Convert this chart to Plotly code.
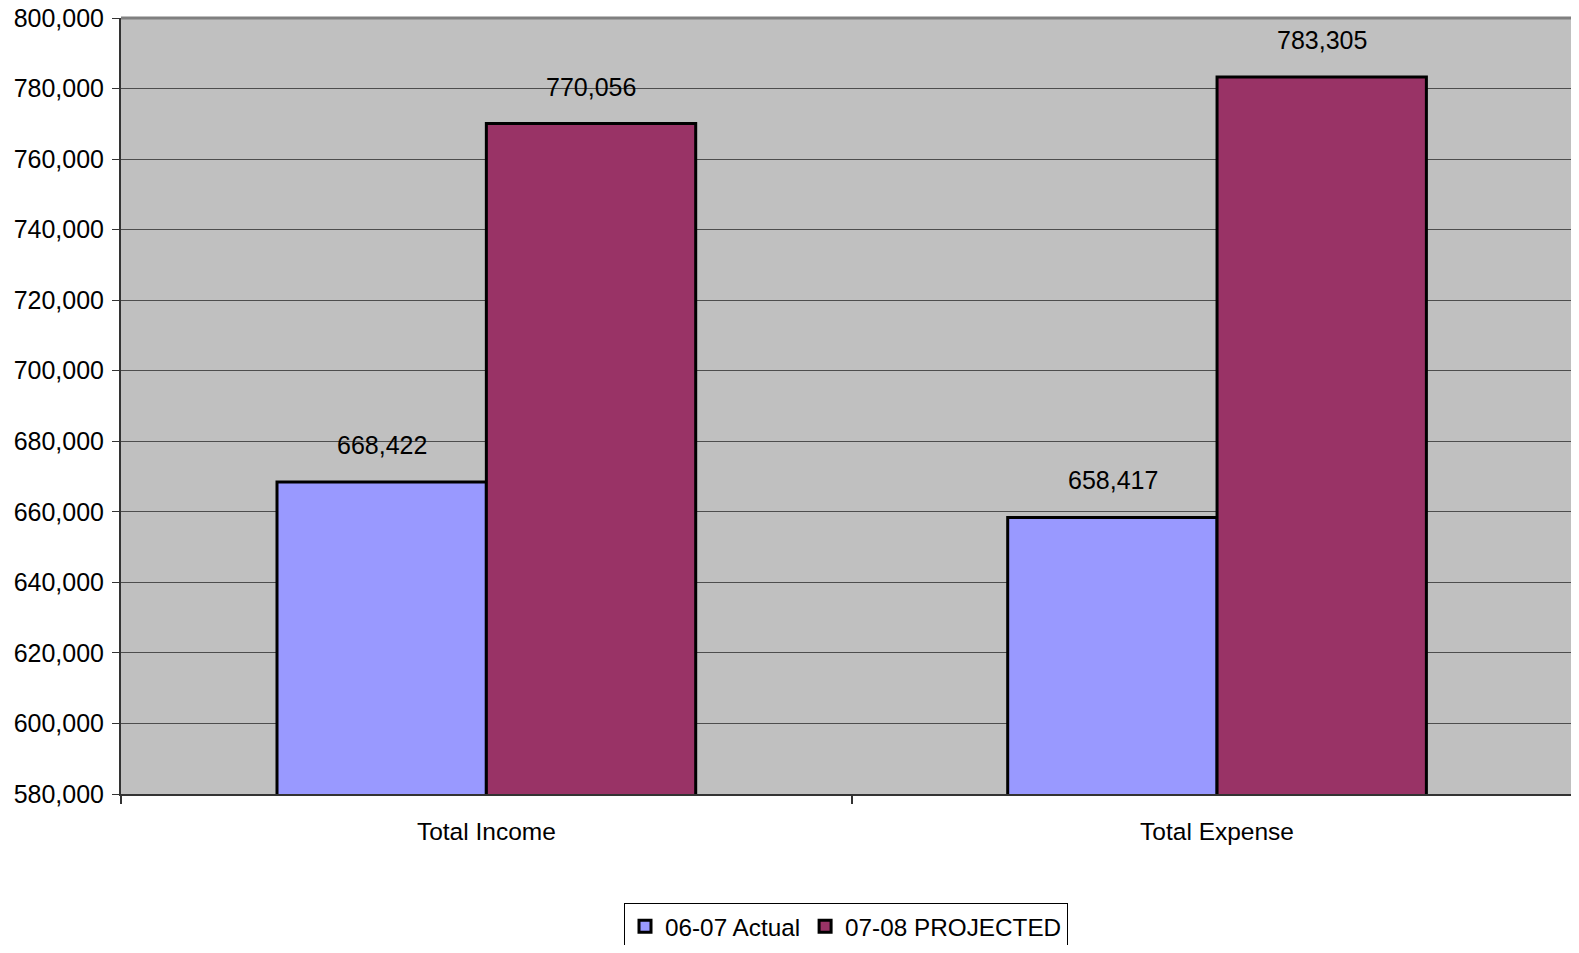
import plotly.graph_objects as go

categories = ["Total Income", "Total Expense"]
series_names = ["06-07 Actual", "07-08 PROJECTED"]
actual_0607 = [668422, 658417]
projected_0708 = [770056, 783305]
y_tick_values = list(range(580000, 800001, 20000))

colors = ["#9999FF", "#993366"]
FONT = "Liberation Sans, Arial, sans-serif"

fig = go.Figure()
for name, vals, col in zip(series_names, [actual_0607, projected_0708], colors):
    fig.add_trace(go.Bar(
        name=name, x=categories, y=vals,
        marker=dict(color=col, line=dict(color="#000000", width=3)),
    ))

# data labels
bar_px = 209
for i, vals in enumerate([actual_0607, projected_0708]):
    shift = (-0.5 if i == 0 else 0.5) * bar_px
    for c, v in zip(categories, vals):
        fig.add_annotation(
            x=c, y=v, xref="x", yref="y", text=f"{v:,}", showarrow=False,
            xshift=shift, yshift=21, yanchor="bottom",
            font=dict(family=FONT, size=25, color="#000000"),
        )

fig.add_shape(type="line", xref="paper", yref="paper", x0=0, x1=1, y0=1, y1=1,
              line=dict(color="#808080", width=3))

fig.update_layout(
    width=1563, height=937,
    margin=dict(l=113, r=0, t=10, b=151, autoexpand=False),
    plot_bgcolor="#C0C0C0", paper_bgcolor="#FFFFFF",
    barmode="group", bargap=0.427, bargroupgap=0,
    font=dict(family=FONT, size=24, color="#000000"),
    showlegend=True,
    legend=dict(
        orientation="h", x=0.5, xanchor="center", y=-0.1405, yanchor="top",
        bordercolor="#000000", borderwidth=1, bgcolor="#FFFFFF",
        font=dict(family=FONT, size=24.3, color="#000000"),
        itemwidth=30,
    ),
    xaxis=dict(
        type="category", range=[-0.5, 1.4844], tickson="boundaries",
        ticks="outside", ticklen=8,
        tickcolor="#333333", tickwidth=2, showline=True, linecolor="#333333", linewidth=2,
        showgrid=False, tickfont=dict(family=FONT, size=24.5), ticklabelstandoff=15,
    ),
    yaxis=dict(
        range=[580000, 800000], tickvals=y_tick_values, tickformat=",",
        ticks="outside", ticklen=7, tickcolor="#333333", showline=True,
        linecolor="#333333", linewidth=2, showgrid=True, gridcolor="#4D4D4D",
        gridwidth=1, zeroline=False, tickfont=dict(family=FONT, size=25),
        ticklabeloverflow="allow", ticklabelstandoff=3,
    ),
)

fig.write_html("out.html")
